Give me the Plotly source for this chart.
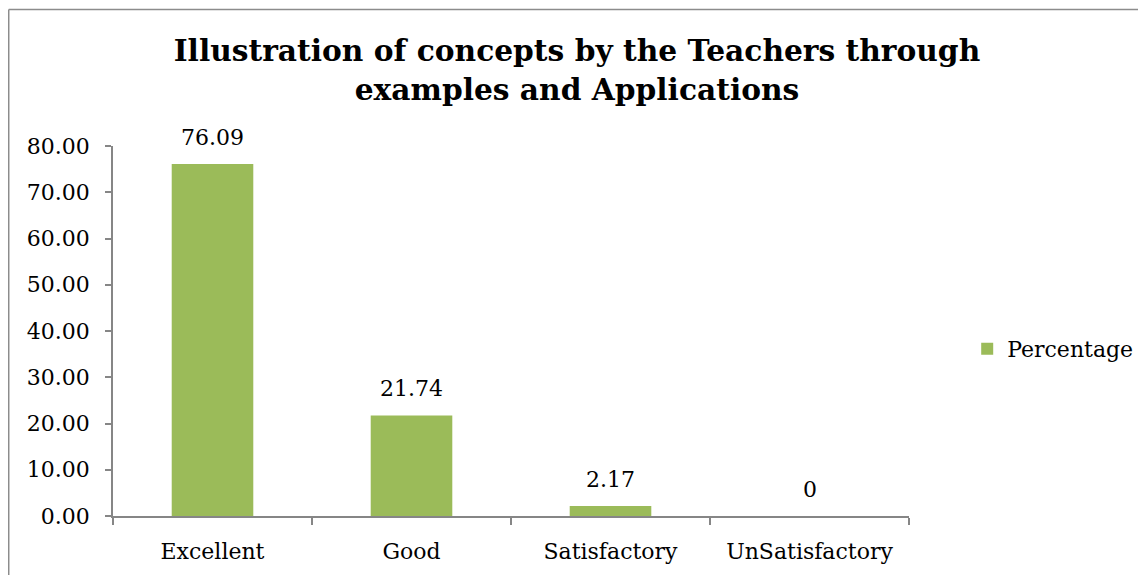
import plotly.graph_objects as go

categories = ["Excellent", "Good", "Satisfactory", "UnSatisfactory"]
percentages = [76.09, 21.74, 2.17, 0]
value_labels = ["76.09", "21.74", "2.17", "0"]
y_ticks = [0, 10, 20, 30, 40, 50, 60, 70, 80]

FONT = "DejaVu Serif"
GREEN = "#9BBB59"
GRAY = "#868686"

fig = go.Figure(
    go.Bar(
        x=categories,
        y=percentages,
        name="Percentage",
        marker={"color": GREEN, "line": {"width": 0}},
        width=0.41,
        showlegend=True,
    )
)

for cat, val, lab in zip(categories, percentages, value_labels):
    fig.add_annotation(
        x=cat, y=val, text=lab, showarrow=False, yanchor="bottom", yshift=12,
        font={"family": FONT, "size": 22, "color": "#000000"},
    )

# outer chart frame (only left and top edges are visible in the crop)
fig.add_shape(type="line", xref="paper", yref="paper", x0=-0.131, x1=-0.131, y0=-0.2, y1=1.369,
              line={"color": "#8c8c8c", "width": 1.5})
fig.add_shape(type="line", xref="paper", yref="paper", x0=-0.131, x1=1.35, y0=1.369, y1=1.369,
              line={"color": "#8c8c8c", "width": 1.5})

# the page body adds an 8px offset, so margins are shifted to compensate
fig.update_layout(
    width=1146,
    height=575,
    margin={"l": 105, "r": 245, "t": 138, "b": 67},
    paper_bgcolor="white",
    plot_bgcolor="white",
    font={"family": FONT, "size": 22, "color": "#000000"},
    title={
        "text": "<b>Illustration of concepts by the Teachers through<br>examples and Applications</b>",
        "x": 0.4965, "xanchor": "center", "xref": "container",
        "y": 0.907, "yanchor": "top", "yref": "container",
        "font": {"family": FONT, "size": 29.7, "color": "#000000"},
    },
    legend={
        "x": 0.837, "xref": "container", "xanchor": "left",
        "y": 0.407, "yref": "container", "yanchor": "middle",
        "font": {"family": FONT, "size": 22},
        "bgcolor": "rgba(0,0,0,0)",
    },
)

fig.update_yaxes(
    range=[0, 80], tickvals=y_ticks, tickformat=".2f",
    showgrid=False, zeroline=False,
    showline=True, linecolor=GRAY, linewidth=1.5,
    ticks="outside", ticklen=6, tickcolor=GRAY, tickwidth=1.5,
    ticklabelstandoff=11,
)
fig.update_xaxes(
    showgrid=False, zeroline=False,
    showline=True, linecolor=GRAY, linewidth=1.5,
    ticks="outside", ticklen=7, tickcolor=GRAY, tickwidth=1.5,
    tickson="boundaries", ticklabelstandoff=15,
)

fig.write_html("out.html")
